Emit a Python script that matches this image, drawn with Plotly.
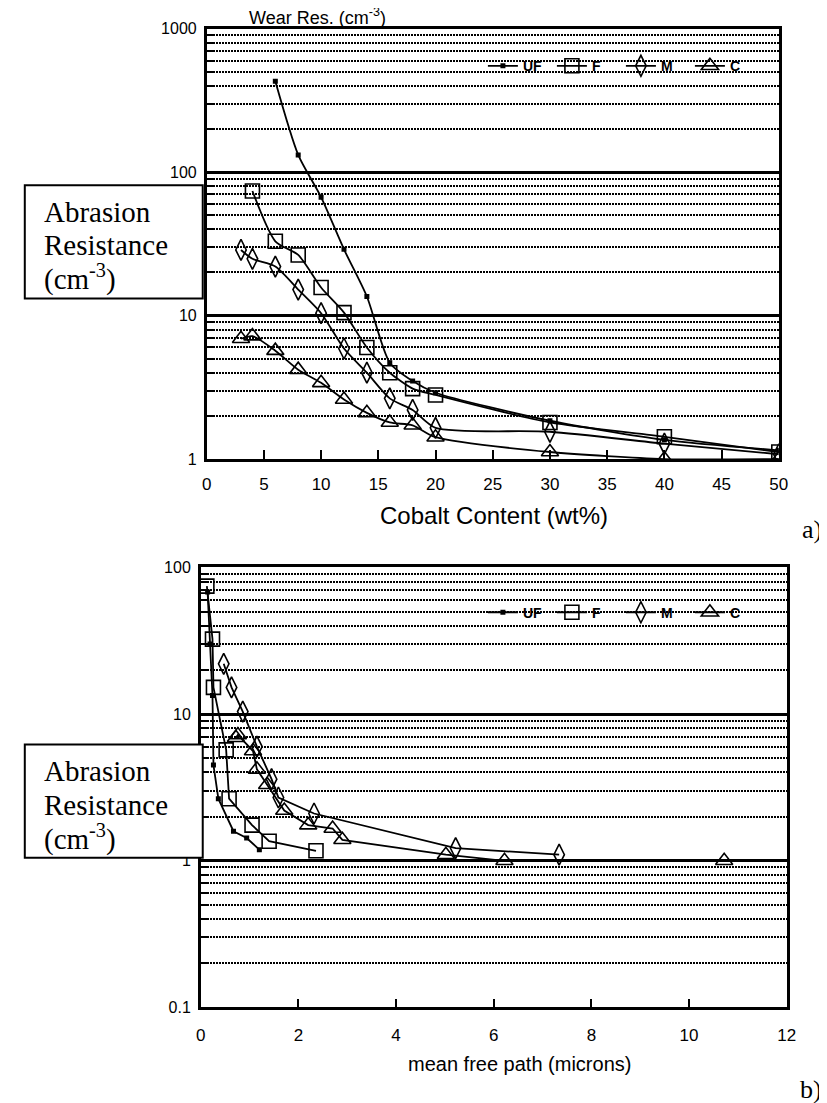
import plotly.graph_objects as go

W, H = 827, 1103

# ---------------- data: (a) abrasion resistance vs cobalt content ----------------
co_uf = [6, 8, 10, 12, 14, 16, 18, 20, 30, 40, 50]
ar_uf = [430, 132, 67, 29, 13.6, 4.7, 3.5, 2.9, 1.85, 1.36, 1.15]
co_f = [4, 6, 8, 10, 12, 14, 16, 18, 20, 30, 40, 50]
ar_f = [74, 33, 26.5, 15.7, 10.5, 6.0, 4.0, 3.1, 2.8, 1.8, 1.43, 1.12]
co_m = [3, 4, 6, 8, 10, 12, 14, 16, 18, 20, 30, 40, 50]
ar_m = [28.7, 24.9, 22, 15.2, 10.4, 5.9, 4.0, 2.65, 2.2, 1.65, 1.55, 1.28, 1.08]
co_c = [3, 4, 6, 8, 10, 12, 14, 16, 18, 20, 30, 40, 50]
ar_c = [6.9, 7.2, 5.7, 4.2, 3.4, 2.6, 2.1, 1.8, 1.72, 1.42, 1.12, 1.0, 1.0]

# ---------------- data: (b) abrasion resistance vs mean free path ----------------
mfp_uf = [0.14, 0.19, 0.24, 0.26, 0.36, 0.67, 0.94, 1.2]
br_uf = [68, 30, 13.4, 4.5, 2.65, 1.59, 1.43, 1.19]
mfp_f = [0.125, 0.24, 0.26, 0.52, 0.58, 1.05, 1.40, 2.36]
br_f = [74.5, 32.4, 15.2, 5.7, 2.65, 1.75, 1.36, 1.17]
mfp_m = [0.47, 0.63, 0.86, 1.15, 1.45, 1.59, 2.32, 5.22, 7.34]
br_m = [22, 15.2, 10.4, 6.0, 3.6, 2.7, 2.1, 1.22, 1.1]
mfp_c = [0.72, 0.76, 1.07, 1.15, 1.36, 1.71, 2.2, 2.7, 2.9, 5.02, 6.22, 10.72]
br_c = [6.9, 7.2, 5.6, 4.2, 3.3, 2.2, 1.75, 1.66, 1.39, 1.1, 1.0, 1.0]

names = ["UF", "F", "M", "C"]
x_ticks_a = [0, 5, 10, 15, 20, 25, 30, 35, 40, 45, 50]
x_ticks_b = [0, 2, 4, 6, 8, 10, 12]

SANS = "Liberation Sans, Arial, sans-serif"
SERIF = "Liberation Serif, Times New Roman, serif"


def fx(px):
    return px / W


def fy(py):
    return 1 - py / H


symbols = {
    "UF": dict(symbol="square", size=5, line=dict(width=0)),
    "F": dict(symbol="square-open", size=14, line=dict(width=1.6)),
    "M": dict(symbol="diamond-tall-open", size=15, line=dict(width=1.6)),
    "C": dict(symbol="triangle-up-open", size=15, line=dict(width=1.6)),
}

fig = go.Figure()

top_sets = [(co_uf, ar_uf), (co_f, ar_f), (co_m, ar_m), (co_c, ar_c)]
for nm, (xs, ys) in zip(names, top_sets):
    fig.add_trace(go.Scatter(
        x=xs, y=ys, name=nm, mode="lines+markers",
        line=dict(color="black", width=1.8, shape="spline", smoothing=0.7),
        marker=dict(color="black", **symbols[nm]),
        xaxis="x", yaxis="y", legend="legend",
    ))

bot_sets = [(mfp_uf, br_uf), (mfp_f, br_f), (mfp_m, br_m), (mfp_c, br_c)]
for nm, (xs, ys) in zip(names, bot_sets):
    fig.add_trace(go.Scatter(
        x=xs, y=ys, name=nm, mode="lines+markers",
        line=dict(color="black", width=1.8),
        marker=dict(color="black", **symbols[nm]),
        xaxis="x2", yaxis="y2", legend="legend2",
    ))

minor_a = [m * 10 ** k for k in range(0, 3) for m in range(2, 10)]
minor_b = [m * 10 ** k for k in range(-1, 2) for m in range(2, 10)]


def xaxis(domain, rng, tickvals, anchor, standoff):
    return dict(
        domain=domain, range=rng, anchor=anchor,
        tickmode="array", tickvals=tickvals,
        showline=True, linecolor="black", linewidth=2.5, mirror=True,
        ticks="inside", ticklen=9, tickwidth=2, tickcolor="black",
        showgrid=False, zeroline=False,
        tickfont=dict(family=SANS, size=17, color="black"),
        ticklabelstandoff=standoff,
    )


def yaxis(domain, rng, minor_vals, anchor):
    return dict(
        domain=domain, type="log", range=rng, anchor=anchor,
        dtick=1, showline=True, linecolor="black", linewidth=2.5, mirror=True,
        ticks="", showgrid=True, gridcolor="black", gridwidth=3,
        zeroline=False,
        tickfont=dict(family=SANS, size=16, color="black"),
        ticklabelstandoff=4,
        minor=dict(tickmode="array", tickvals=minor_vals, showgrid=True,
                   gridcolor="black", gridwidth=2, griddash="2px,1px",
                   ticks="inside", ticklen=8, tickwidth=1.6, tickcolor="black"),
    )


leg_font = dict(family=SANS, size=14, color="black", weight="bold")

fig.update_layout(
    width=W, height=H,
    margin=dict(l=0, r=0, t=0, b=0),
    paper_bgcolor="white", plot_bgcolor="white",
    xaxis=xaxis([fx(197), fx(779)], [0, 50], x_ticks_a, "y", 8),
    yaxis=yaxis([fy(450), fy(13)], [0, 3], minor_a, "x"),
    xaxis2=xaxis([fx(191), fx(787)], [0, 12], x_ticks_b, "y2", 10),
    yaxis2=yaxis([fy(1007), fy(560)], [-1, 2], minor_b, "x2"),
    legend=dict(orientation="h", x=fx(478), y=fy(51), xanchor="left", yanchor="middle",
                bgcolor="rgba(0,0,0,0)", font=leg_font,
                entrywidth=24, entrywidthmode="pixels", tracegroupgap=0),
    legend2=dict(orientation="h", x=fx(478), y=fy(606), xanchor="left", yanchor="middle",
                 bgcolor="rgba(0,0,0,0)", font=leg_font,
                 entrywidth=24, entrywidthmode="pixels", tracegroupgap=0),
    showlegend=True,
)

# Boxes with "Abrasion Resistance (cm-3)"
shapes = []
annotations = []
for off in (0, 568):
    shapes.append(dict(type="rect", xref="paper", yref="paper",
                       x0=fx(12), x1=fx(193), y0=fy(287 + off), y1=fy(172 + off),
                       line=dict(color="black", width=2), fillcolor="white", layer="above"))
    for txt, cy in (("Abrasion", 199), ("Resistance", 233), ("(cm<sup>-3</sup>)", 266)):
        annotations.append(dict(text=txt, xref="paper", yref="paper", x=fx(30), y=fy(cy + off),
                                xanchor="left", yanchor="middle", showarrow=False,
                                font=dict(family=SERIF, size=29, color="black")))

annotations += [
    dict(text="Wear Res. (cm<sup>-3</sup>)", xref="paper", yref="paper", x=fx(238), y=fy(1),
         xanchor="left", yanchor="middle", showarrow=False,
         font=dict(family=SANS, size=18, color="black")),
    dict(text="Cobalt Content (wt%)", xref="paper", yref="paper", x=fx(489), y=fy(507),
         xanchor="center", yanchor="middle", showarrow=False,
         font=dict(family=SANS, size=24, color="black")),
    dict(text="mean free path (microns)", xref="paper", yref="paper", x=fx(515), y=fy(1064),
         xanchor="center", yanchor="middle", showarrow=False,
         font=dict(family=SANS, size=20, color="black")),
    dict(text="a)", xref="paper", yref="paper", x=fx(825), y=fy(522),
         xanchor="right", yanchor="middle", showarrow=False,
         font=dict(family=SERIF, size=26, color="black")),
    dict(text="b)", xref="paper", yref="paper", x=fx(825), y=fy(1090),
         xanchor="right", yanchor="middle", showarrow=False,
         font=dict(family=SERIF, size=26, color="black")),
]

fig.update_layout(shapes=shapes, annotations=annotations)

fig.write_html("out.html")
